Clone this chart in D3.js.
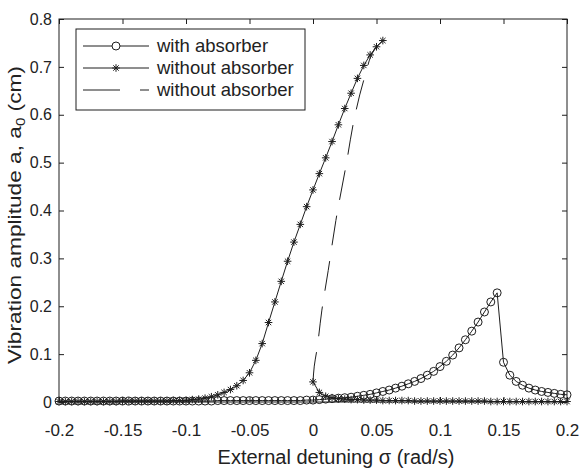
<!DOCTYPE html>
<html>
<head>
<meta charset="utf-8">
<script src="https://cdn.jsdelivr.net/npm/d3@7"></script>
<style>
  body { margin: 0; background: #fff; }
  svg text { font-family: "Liberation Sans", Arial, sans-serif; fill: #222; }
</style>
</head>
<body>
<svg id="chart"></svg>
<script>
// detuning grid shared by the computed curves
const sigma = [
  -0.200, -0.195, -0.190, -0.185, -0.180, -0.175, -0.170, -0.165, -0.160, -0.155,
  -0.150, -0.145, -0.140, -0.135, -0.130, -0.125, -0.120, -0.115, -0.110, -0.105,
  -0.100, -0.095, -0.090, -0.085, -0.080, -0.075, -0.070, -0.065, -0.060, -0.055,
  -0.050, -0.045, -0.040, -0.035, -0.030, -0.025, -0.020, -0.015, -0.010, -0.005,
   0.000,  0.005,  0.010,  0.015,  0.020,  0.025,  0.030,  0.035,  0.040,  0.045,
   0.050,  0.055,  0.060,  0.065,  0.070,  0.075,  0.080,  0.085,  0.090,  0.095,
   0.100,  0.105,  0.110,  0.115,  0.120,  0.125,  0.130,  0.135,  0.140,  0.145,
   0.150,  0.155,  0.160,  0.165,  0.170,  0.175,  0.180,  0.185,  0.190,  0.195,
   0.200
];

// with absorber, all 81 points
const withAbsorber = [
  0.002, 0.002, 0.002, 0.002, 0.002, 0.002, 0.002, 0.002, 0.002, 0.002,
  0.002, 0.002, 0.002, 0.002, 0.002, 0.002, 0.002, 0.002, 0.002, 0.002,
  0.002, 0.002, 0.002, 0.002, 0.002, 0.003, 0.003, 0.003, 0.003, 0.003,
  0.003, 0.003, 0.003, 0.003, 0.003, 0.003, 0.003, 0.003, 0.003, 0.004,
  0.004, 0.005, 0.006, 0.007, 0.008, 0.009, 0.010, 0.012, 0.014, 0.016,
  0.019, 0.022, 0.025, 0.029, 0.033, 0.038, 0.043, 0.049, 0.056, 0.064,
  0.074, 0.085, 0.098, 0.113, 0.130, 0.148, 0.167, 0.188, 0.209, 0.228,
  0.083, 0.056, 0.043, 0.035, 0.029, 0.025, 0.022, 0.020, 0.018, 0.016,
  0.015
];

// without absorber, upper branch: sigma[0] .. sigma[51]
const withoutUpper = [
  0.001, 0.001, 0.001, 0.001, 0.001, 0.001, 0.001, 0.001, 0.001, 0.001,
  0.002, 0.002, 0.002, 0.002, 0.002, 0.002, 0.002, 0.002, 0.003, 0.003,
  0.003, 0.005, 0.006, 0.008, 0.011, 0.015, 0.020, 0.026, 0.034, 0.045,
  0.061, 0.087, 0.122, 0.166, 0.209, 0.252, 0.294, 0.334, 0.371, 0.408,
  0.443, 0.477, 0.510, 0.544, 0.579, 0.613, 0.645, 0.676, 0.703, 0.725,
  0.742, 0.755
];

// without absorber, lower branch: sigma[40] .. sigma[80]
const withoutLower = [
  0.042, 0.020, 0.012, 0.009, 0.007, 0.006, 0.005, 0.005, 0.004, 0.004,
  0.004, 0.003, 0.003, 0.003, 0.003, 0.003, 0.002, 0.002, 0.002, 0.002,
  0.002, 0.002, 0.002, 0.002, 0.002, 0.002, 0.002, 0.002, 0.001, 0.001,
  0.001, 0.001, 0.001, 0.001, 0.001, 0.001, 0.001, 0.001, 0.001, 0.001,
  0.001
];

// unstable branch (dashed)
const unstableSigma = [0.000, 0.001, 0.003, 0.007, 0.012, 0.018, 0.026, 0.033, 0.041, 0.049, 0.055];
const unstableAmp   = [0.042, 0.075, 0.108, 0.192, 0.275, 0.379, 0.494, 0.598, 0.681, 0.738, 0.755];

const xTicks = [-0.2, -0.15, -0.1, -0.05, 0, 0.05, 0.1, 0.15, 0.2];
const xTickLabels = ['-0.2', '-0.15', '-0.1', '-0.05', '0', '0.05', '0.1', '0.15', '0.2'];
const yTicks = [0, 0.1, 0.2, 0.3, 0.4, 0.5, 0.6, 0.7, 0.8];
const yTickLabels = ['0', '0.1', '0.2', '0.3', '0.4', '0.5', '0.6', '0.7', '0.8'];
const legendLabels = ['with absorber', 'without absorber', 'without absorber'];

const ink = '#1e1e1e';

const margin = {top: 19, right: 17, bottom: 66, left: 59};
const width = 584 - margin.left - margin.right;
const height = 468 - margin.top - margin.bottom;

const svg = d3.select('#chart')
    .attr('width', 584)
    .attr('height', 468)
  .append('g')
    .attr('transform', `translate(${margin.left},${margin.top})`);

const x = d3.scaleLinear().domain([-0.2, 0.2]).range([0, width]);
const y = d3.scaleLinear().domain([0, 0.8]).range([height, 0]);

// axes, ticks pointing inwards on all four sides
const fmtX = (d, i) => xTickLabels[i];
const fmtY = (d, i) => yTickLabels[i];

svg.append('g')
    .attr('transform', `translate(0,${height})`)
    .call(d3.axisBottom(x).tickValues(xTicks).tickFormat(fmtX).tickSizeInner(-5).tickSizeOuter(0).tickPadding(22));
svg.append('g')
    .call(d3.axisTop(x).tickValues(xTicks).tickFormat('').tickSizeInner(-5).tickSizeOuter(0));
const yAxis = svg.append('g')
    .call(d3.axisLeft(y).tickValues(yTicks).tickFormat(fmtY).tickSizeInner(-5).tickSizeOuter(0).tickPadding(7));
svg.append('g')
    .attr('transform', `translate(${width},0)`)
    .call(d3.axisRight(y).tickValues(yTicks).tickFormat('').tickSizeInner(-5).tickSizeOuter(0));

svg.selectAll('.domain').remove();
svg.selectAll('.tick line').attr('stroke', ink);
svg.selectAll('.tick text').attr('font-size', 17).attr('fill', '#222');
yAxis.selectAll('.tick text').attr('font-size', 16);

svg.append('rect')
    .attr('width', width)
    .attr('height', height)
    .attr('fill', 'none')
    .attr('stroke', ink)
    .attr('stroke-width', 1);

// series as point lists
const ptsWith = sigma.map((s, i) => [s, withAbsorber[i]]);
const ptsUpper = withoutUpper.map((a, i) => [sigma[i], a]);
const ptsLower = withoutLower.map((a, i) => [sigma[i + 40], a]);
const ptsUnstable = unstableSigma.map((s, i) => [s, unstableAmp[i]]);

const line = d3.line().x(d => x(d[0])).y(d => y(d[1]));
const smooth = d3.line().x(d => x(d[0])).y(d => y(d[1])).curve(d3.curveMonotoneY);

const starPath = 'M-3.8,0H3.8M0,-3.8V3.8M-2.7,-2.7L2.7,2.7M-2.7,2.7L2.7,-2.7';

svg.append('path')
    .datum(ptsUnstable)
    .attr('d', smooth)
    .attr('fill', 'none')
    .attr('stroke', ink)
    .attr('stroke-width', 1)
    .attr('stroke-dasharray', '30,16');

[ptsWith, ptsUpper, ptsLower].forEach(pts => {
  svg.append('path')
      .datum(pts)
      .attr('d', line)
      .attr('fill', 'none')
      .attr('stroke', ink)
      .attr('stroke-width', 1);
});

[ptsUpper, ptsLower].forEach(pts => {
  svg.append('g').selectAll('path')
      .data(pts)
    .join('path')
      .attr('transform', d => `translate(${x(d[0])},${y(d[1])})`)
      .attr('d', starPath)
      .attr('fill', 'none')
      .attr('stroke', ink)
      .attr('stroke-width', 1);
});

svg.append('g').selectAll('circle')
    .data(ptsWith)
  .join('circle')
    .attr('cx', d => x(d[0]))
    .attr('cy', d => y(d[1]))
    .attr('r', 4)
    .attr('fill', 'none')
    .attr('stroke', ink)
    .attr('stroke-width', 1);

// axis titles
svg.append('text')
    .attr('x', 336 - margin.left)
    .attr('y', height + 62)
    .attr('text-anchor', 'middle')
    .attr('font-size', 20)
    .text('External detuning σ (rad/s)');

// y title is drawn a little elongated, like in the original figure
const yTitle = svg.append('text')
    .attr('transform', `translate(${15 - margin.left},${215 - margin.top}) rotate(-90) scale(1.26,1)`)
    .attr('text-anchor', 'middle')
    .attr('dy', '0.35em')
    .attr('font-size', 18);
yTitle.append('tspan').text('Vibration amplitude a, a');
yTitle.append('tspan').attr('font-size', 12).attr('dy', 4).text('0');
yTitle.append('tspan').attr('dy', -4).text(' (cm)');

// legend
const legend = svg.append('g')
    .attr('transform', `translate(${76 - margin.left},${29 - margin.top})`);

legend.append('rect')
    .attr('width', 229)
    .attr('height', 81)
    .attr('fill', '#fff')
    .attr('stroke', ink)
    .attr('stroke-width', 1);

const rowY = [17, 39, 61];
legendLabels.forEach((lab, i) => {
  const g = legend.append('g').attr('transform', `translate(0,${rowY[i]})`);
  const ln = g.append('line')
      .attr('x1', 7).attr('x2', 73)
      .attr('stroke', ink).attr('stroke-width', 1);
  if (i === 2) ln.attr('stroke-dasharray', '37,20');
  if (i === 0) g.append('circle').attr('cx', 40).attr('r', 4).attr('fill', '#fff').attr('stroke', ink);
  if (i === 1) g.append('path').attr('transform', 'translate(40,0)').attr('d', starPath).attr('stroke', ink).attr('fill', 'none');
  g.append('text')
      .attr('x', 81)
      .attr('dy', '0.35em')
      .attr('font-size', 18.5)
      .text(lab);
});
</script>
</body>
</html>
